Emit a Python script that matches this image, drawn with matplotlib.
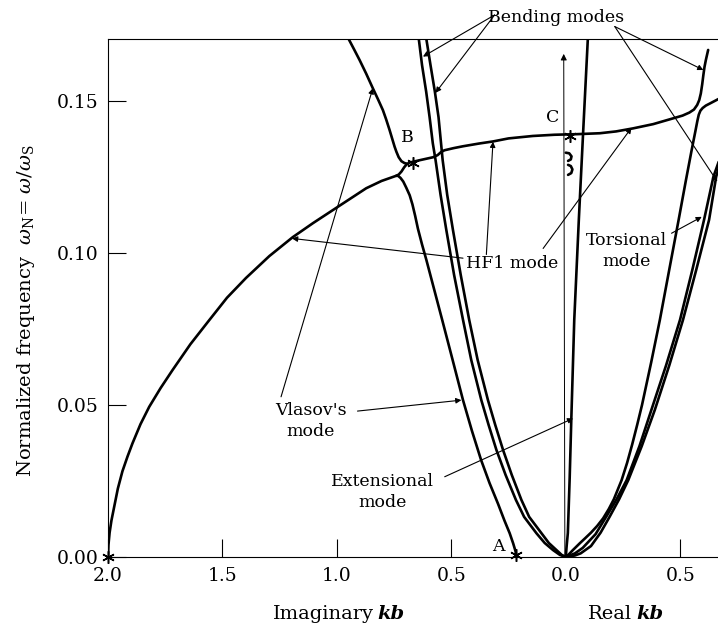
import numpy as np
import matplotlib
matplotlib.use("Agg")
import matplotlib.pyplot as plt

plt.rcParams['font.family'] = ['DejaVu Serif']
plt.rcParams['mathtext.fontset'] = 'dejavuserif'

# ---- data (x < 0 : imaginary kb plotted as -Im, x > 0 : real kb) ----
# left branch from kb = 2i, kink, through B and C, ending as a bending mode at right
hf1_x = [-2.000, -1.998, -1.993, -1.985, -1.973, -1.957, -1.937, -1.915, -1.893,
         -1.858, -1.820, -1.770, -1.718, -1.640, -1.562, -1.480, -1.397, -1.295,
         -1.193, -1.105, -1.018, -0.945, -0.872, -0.805, -0.741,
         -0.730, -0.718, -0.706, -0.695, -0.680, -0.668, -0.640, -0.610, -0.580,
         -0.560, -0.545, -0.530, -0.490, -0.450, -0.380, -0.318, -0.250, -0.144,
         -0.050, 0.050, 0.149, 0.220, 0.294, 0.382, 0.469, 0.510, 0.540, 0.560,
         0.574, 0.583, 0.590, 0.596, 0.601, 0.606, 0.612, 0.622]
hf1_y = [0.0000, 0.0040, 0.0080, 0.0120, 0.0165, 0.0225, 0.0282, 0.0330, 0.0374,
         0.0437, 0.0494, 0.0556, 0.0615, 0.0700, 0.0775, 0.0853, 0.0918, 0.0990,
         0.1052, 0.1098, 0.1141, 0.1177, 0.1213, 0.1237, 0.1254,
         0.1258, 0.1268, 0.1282, 0.1292, 0.1298, 0.1300, 0.1305, 0.1310, 0.1315,
         0.1322, 0.1332, 0.1338, 0.1345, 0.1351, 0.1360, 0.1367, 0.1377, 0.1385,
         0.1389, 0.1391, 0.1394, 0.1400, 0.1410, 0.1424, 0.1443, 0.1452, 0.1462,
         0.1472, 0.1487, 0.1503, 0.1525, 0.1555, 0.1585, 0.1612, 0.1635, 0.1668]

# Vlasov's mode (upper part, coming down into B)
vla_x = [-0.962, -0.948, -0.925, -0.901, -0.872, -0.843, -0.820, -0.799, -0.785,
         -0.770, -0.758, -0.748, -0.740, -0.730, -0.718, -0.705, -0.690]
vla_y = [0.1750, 0.1703, 0.1670, 0.1635, 0.1590, 0.1542, 0.1505, 0.1470, 0.1440,
         0.1405, 0.1375, 0.1350, 0.1333, 0.1315, 0.1302, 0.1296, 0.1293]

# branch going down from the kink to point A
dn_x = [-0.741, -0.733, -0.722, -0.710, -0.697, -0.682, -0.670, -0.658, -0.646,
        -0.628, -0.609, -0.575, -0.540, -0.495, -0.449, -0.410, -0.370, -0.333,
        -0.296, -0.268, -0.245, -0.230, -0.220, -0.216]
dn_y = [0.1254, 0.1254, 0.1247, 0.1235, 0.1215, 0.1190, 0.1160, 0.1122, 0.1080,
        0.1028, 0.0977, 0.0880, 0.0780, 0.0650, 0.0516, 0.0415, 0.0319, 0.0243,
        0.0175, 0.0120, 0.0078, 0.0045, 0.0020, 0.0005]

# bending modes, imaginary side (pair of close curves)
bl1_x = [-0.652, -0.642, -0.628, -0.610, -0.595, -0.581, -0.569, -0.547, -0.522,
         -0.488, -0.449, -0.413, -0.369, -0.337, -0.303, -0.263, -0.218, -0.182,
         -0.128, -0.092, -0.056, -0.026, 0.0]
bl1_y = [0.1766, 0.1703, 0.1618, 0.1531, 0.1447, 0.1361, 0.1306, 0.1191, 0.1076,
         0.0928, 0.0780, 0.0648, 0.0516, 0.0434, 0.0352, 0.0270, 0.0188, 0.0132,
         0.0078, 0.0046, 0.0023, 0.0007, 0.0]
bl2_x = [-0.621, -0.609, -0.591, -0.572, -0.556, -0.545, -0.538, -0.518, -0.493,
         -0.459, -0.422, -0.385, -0.340, -0.308, -0.274, -0.236, -0.194, -0.160,
         -0.106, -0.074, -0.041, -0.018, 0.0]
bl2_y = bl1_y

# real side
r1_x = [0.0, 0.015, 0.030, 0.061, 0.085, 0.110, 0.137, 0.163, 0.188, 0.210, 0.244,
        0.268, 0.290, 0.312, 0.333, 0.373, 0.411, 0.452, 0.493, 0.525, 0.550, 0.566,
        0.575, 0.581, 0.588, 0.598, 0.612, 0.630, 0.668]
r1_y = [0.0, 0.0010, 0.0022, 0.0045, 0.0062, 0.0080, 0.0102, 0.0127, 0.0158, 0.0190,
        0.0253, 0.0310, 0.0370, 0.0435, 0.0500, 0.0640, 0.0780, 0.0945, 0.1109,
        0.1240, 0.1339, 0.1400, 0.1435, 0.1455, 0.1468, 0.1477, 0.1485, 0.1492, 0.1507]
r2_x = [0.0, 0.040, 0.074, 0.130, 0.177, 0.222, 0.266, 0.322, 0.374, 0.438, 0.499,
        0.553, 0.604, 0.645, 0.668]
r2_y = [0.0, 0.0012, 0.0030, 0.0075, 0.0133, 0.0190, 0.0253, 0.0365, 0.0484, 0.0630,
        0.0780, 0.0945, 0.1109, 0.1251, 0.1300]
r3_x = [0.0, 0.040, 0.065, 0.110, 0.152, 0.192, 0.233, 0.273, 0.332, 0.389, 0.452,
        0.512, 0.570, 0.626, 0.657, 0.670]
r3_y = [0.0, 0.0005, 0.0012, 0.0036, 0.0080, 0.0133, 0.0190, 0.0253, 0.0365, 0.0484,
        0.0630, 0.0780, 0.0945, 0.1109, 0.1251, 0.1285]

# extensional mode
ext_x = [0.0, 0.003, 0.009, 0.017, 0.024, 0.037, 0.057, 0.076, 0.100]
ext_y = [0.0, 0.0030, 0.0079, 0.0260, 0.0450, 0.0780, 0.1110, 0.1400, 0.1760]

# small hooks under C
hk1_x = [0.000, 0.015, 0.025, 0.022, 0.010]
hk1_y = [0.1330, 0.1328, 0.1318, 0.1308, 0.1303]
hk2_x = [0.010, 0.022, 0.029, 0.024, 0.010]
hk2_y = [0.1290, 0.1286, 0.1275, 0.1263, 0.1257]

# marked points
star_x = [-2.0, -0.216, -0.668, 0.020]
star_y = [0.0, 0.0005, 0.1297, 0.1385]

xticks = [-2.0, -1.5, -1.0, -0.5, 0.0, 0.5]
xtick_labels = ['2.0', '1.5', '1.0', '0.5', '0.0', '0.5']
yticks = [0.0, 0.05, 0.10, 0.15]
ytick_labels = ['0.00', '0.05', '0.10', '0.15']

# ---- figure ----
fig = plt.figure(figsize=(7.18, 6.26), dpi=100)
ax = fig.add_axes([0.15042, 0.11022, 0.84958, 0.82748])

lw = 1.9
for xs, ys in [(hf1_x, hf1_y), (vla_x, vla_y), (dn_x, dn_y), (bl1_x, bl1_y),
               (bl2_x, bl2_y), (r1_x, r1_y), (r2_x, r2_y), (r3_x, r3_y),
               (ext_x, ext_y), (hk1_x, hk1_y), (hk2_x, hk2_y)]:
    ax.plot(xs, ys, color='black', lw=lw, solid_capstyle='round',
            solid_joinstyle='round')

ax.plot(star_x, star_y, linestyle='none', marker=(6, 2, 0), ms=9, mew=1.1,
        color='black', clip_on=False, zorder=5)

# thin vertical arrow at kb = 0
ax.annotate('', xy=(-0.009, 0.1655), xytext=(-0.004, 0.0),
            arrowprops=dict(arrowstyle='-|>', color='black', lw=0.7,
                            mutation_scale=9, shrinkA=0, shrinkB=0))

ax.set_xlim(-2.0, 0.665)
ax.set_ylim(0.0, 0.1704)
ax.set_xticks(xticks)
ax.set_xticklabels(xtick_labels)
ax.set_yticks(yticks)
ax.set_yticklabels(ytick_labels)
ax.tick_params(direction='in', length=13, width=0.8, pad=7, labelsize=13.5)
for s in ['left', 'top', 'bottom']:
    ax.spines[s].set_linewidth(0.8)
ax.spines['right'].set_visible(False)

# ---- annotations ----
fs = 12.5
ap = dict(arrowstyle='-|>', color='black', lw=0.8, mutation_scale=8,
          shrinkA=0, shrinkB=0)


def arrow(start, tip):
    ax.annotate('', xy=tip, xytext=start, arrowprops=ap, annotation_clip=False)


ax.text(-0.041, 0.1761, 'Bending modes', fontsize=fs, ha='center', va='baseline',
        clip_on=False)
arrow((-0.311, 0.1783), (-0.624, 0.1646))
arrow((-0.311, 0.1783), (-0.569, 0.1527))
arrow((0.214, 0.1745), (0.601, 0.1602))
arrow((0.214, 0.1745), (0.662, 0.1235))

ax.text(-0.234, 0.0967, 'HF1 mode', fontsize=fs, ha='center', va='center')
arrow((-0.449, 0.0983), (-1.196, 0.1048))
arrow((-0.347, 0.0995), (-0.318, 0.1366))
arrow((-0.099, 0.1015), (0.287, 0.1412))

ax.text(-1.115, 0.0447, "Vlasov's\nmode", fontsize=fs, ha='center', va='center',
        linespacing=1.25)
arrow((-1.244, 0.0527), (-0.843, 0.1542))
arrow((-0.910, 0.0480), (-0.456, 0.0516))

ax.text(-0.80, 0.0214, 'Extensional\nmode', fontsize=fs, ha='center', va='center',
        linespacing=1.25)
arrow((-0.529, 0.0264), (0.032, 0.0456))

ax.text(0.266, 0.1007, 'Torsional\nmode', fontsize=fs, ha='center', va='center',
        linespacing=1.25)
arrow((0.462, 0.1065), (0.594, 0.1119))

ax.text(-0.694, 0.1380, 'B', fontsize=fs, ha='center', va='center')
ax.text(-0.056, 0.1446, 'C', fontsize=fs, ha='center', va='center')
ax.text(-0.296, 0.0036, 'A', fontsize=fs, ha='center', va='center')

# axis labels
tr = ax.get_xaxis_transform()
ax.text(-0.84, -0.1197, 'Imaginary', transform=tr, fontsize=14, ha='right',
        va='baseline')
ax.annotate('kb', xy=(-0.84, -0.1197), xycoords=tr, xytext=(3, 0),
            textcoords='offset points', fontsize=14, ha='left', va='baseline',
            fontweight='bold', fontstyle='italic', annotation_clip=False)
ax.text(0.289, -0.1197, 'Real', transform=tr, fontsize=14, ha='right',
        va='baseline')
ax.annotate('kb', xy=(0.289, -0.1197), xycoords=tr, xytext=(3, 0),
            textcoords='offset points', fontsize=14, ha='left', va='baseline',
            fontweight='bold', fontstyle='italic', annotation_clip=False)

fig.text(0.036, 0.503, r'Normalized frequency  $\omega_{\rm N}$= $\omega/\omega_{\rm S}$',
         rotation=90, fontsize=14, ha='center', va='center')

fig.savefig('out.png', dpi=100)
